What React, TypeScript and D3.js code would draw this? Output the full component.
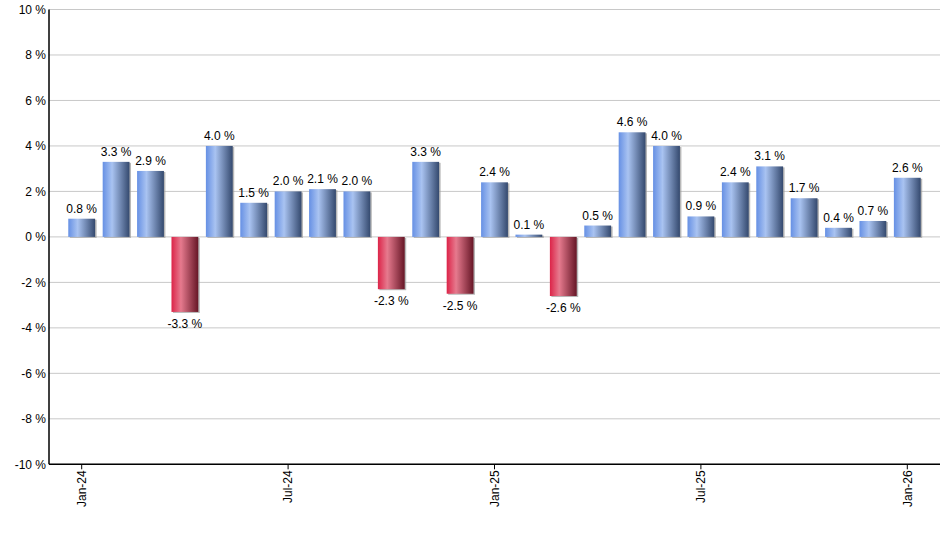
import React from 'react';
import * as d3 from 'd3';

// monthly returns, Jan-24 .. Jan-26
const months = [
  'Jan-24', 'Feb-24', 'Mar-24', 'Apr-24', 'May-24', 'Jun-24', 'Jul-24', 'Aug-24', 'Sep-24',
  'Oct-24', 'Nov-24', 'Dec-24', 'Jan-25', 'Feb-25', 'Mar-25', 'Apr-25', 'May-25', 'Jun-25',
  'Jul-25', 'Aug-25', 'Sep-25', 'Oct-25', 'Nov-25', 'Dec-25', 'Jan-26',
];
const values = [
  0.8, 3.3, 2.9, -3.3, 4.0, 1.5, 2.0, 2.1, 2.0, -2.3, 3.3, -2.5, 2.4,
  0.1, -2.6, 0.5, 4.6, 4.0, 0.9, 2.4, 3.1, 1.7, 0.4, 0.7, 2.6,
];
const tickMonths = ['Jan-24', 'Jul-24', 'Jan-25', 'Jul-25', 'Jan-26'];
const yTicks = [-10, -8, -6, -4, -2, 0, 2, 4, 6, 8, 10];

const W = 940;
const H = 550;
const left = 49;
const top = 9.5;
const bottom = 464.3;

export default function App() {
  const x = d3.scaleBand<string>()
    .domain(months)
    .range([64.5, 924.5])
    .paddingInner(0.22)
    .paddingOuter(0.11);

  const y = d3.scaleLinear().domain([-10, 10]).range([bottom, top]);
  const bw = x.bandwidth();
  const font = '"Liberation Sans", Arial, sans-serif';

  return (
    <svg width={W} height={H} style={{ position: 'absolute', left: 0, top: 0 }} fontFamily={font}>
      <defs>
        <linearGradient id="gBlue" x1="0" x2="1" y1="0" y2="0">
          <stop offset="0" stopColor="#6690e4" />
          <stop offset="0.35" stopColor="#a9c3f1" />
          <stop offset="1" stopColor="#34496e" />
        </linearGradient>
        <linearGradient id="gRed" x1="0" x2="1" y1="0" y2="0">
          <stop offset="0" stopColor="#dc2448" />
          <stop offset="0.35" stopColor="#e67a8e" />
          <stop offset="1" stopColor="#661626" />
        </linearGradient>
      </defs>

      {/* grid */}
      {yTicks.map(t => (
        <g key={t}>
          <line x1={left} x2={W} y1={y(t)} y2={y(t)} stroke="#c8c8c8" strokeWidth={1} />
          <text x={46} y={y(t)} dy="0.35em" textAnchor="end" fontSize={12} fill="#000">
            {t} %
          </text>
        </g>
      ))}

      {/* bars */}
      {values.map((v, i) => {
        const bx = x(months[i]) as number;
        const y0 = y(0);
        const y1 = y(v);
        const by = Math.min(y0, y1);
        const bh = Math.abs(y1 - y0);
        return (
          <g key={months[i]}>
            <rect x={bx + 1.5} y={by + 1} width={bw} height={bh} fill="#9a9a9a" opacity={0.7} />
            <rect x={bx} y={by} width={bw} height={bh} fill={v >= 0 ? 'url(#gBlue)' : 'url(#gRed)'} />
            <text
              x={bx + bw / 2}
              y={v >= 0 ? y1 - 6 : y1 + 16}
              textAnchor="middle"
              fontSize={12}
              fill="#000"
            >
              {v.toFixed(1)} %
            </text>
          </g>
        );
      })}

      {/* axes */}
      <line x1={left} x2={left} y1={top} y2={bottom} stroke="#000" strokeWidth={1.5} />
      <line x1={left} x2={W} y1={bottom} y2={bottom} stroke="#000" strokeWidth={1.5} />
      {tickMonths.map(m => {
        const cx = (x(m) as number) + bw / 2;
        return (
          <g key={m}>
            <line x1={cx} x2={cx} y1={bottom} y2={bottom + 5} stroke="#000" strokeWidth={1} />
            <text
              transform={`translate(${cx},${bottom + 6}) rotate(-90)`}
              textAnchor="end"
              dy="0.35em"
              fontSize={12}
              fill="#000"
            >
              {m}
            </text>
          </g>
        );
      })}
    </svg>
  );
}
